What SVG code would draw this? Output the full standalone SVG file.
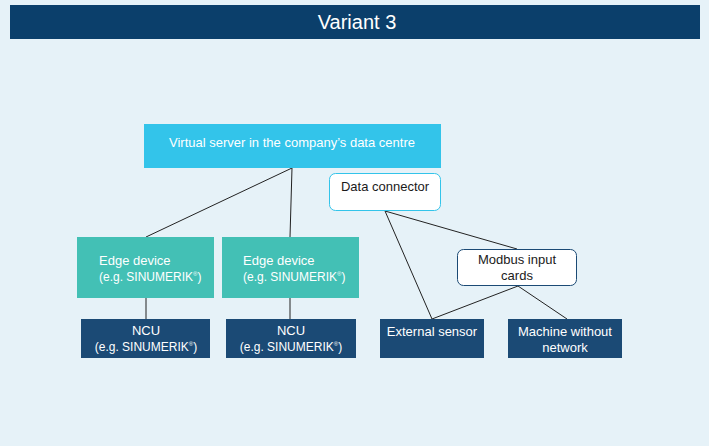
<svg xmlns="http://www.w3.org/2000/svg" width="709" height="446" viewBox="0 0 709 446">
<style>
text{font-family:"Liberation Sans",Arial,sans-serif;font-size:13px}
.s{font-size:12px}
.w{fill:#ffffff}
.k{fill:#1a1a1a}
.c{text-anchor:middle}
.sup{font-size:6px}
.ln{stroke:#222;stroke-width:1;fill:none}
.teal{fill:#43c0b5}
.navy{fill:#1b4a75}
</style>
<rect x="0" y="0" width="709" height="446" fill="#e6f2f8"/>
<g id="header">
<rect x="10" y="5" width="690" height="34" fill="#0b3f6b"/>
<text x="357" y="29" class="w c" style="font-size:20px">Variant 3</text>
</g>
<g id="connectors">
<line class="ln" x1="292" y1="168" x2="146" y2="237"/>
<line class="ln" x1="292" y1="168" x2="290" y2="237"/>
<line class="ln" x1="146" y1="298" x2="146" y2="319"/>
<line class="ln" x1="290" y1="298" x2="290" y2="319"/>
<line class="ln" x1="385" y1="211" x2="517" y2="249"/>
<line class="ln" x1="385" y1="211" x2="432" y2="319"/>
<line class="ln" x1="518" y1="286" x2="432" y2="319"/>
<line class="ln" x1="518" y1="286" x2="567" y2="319"/>
</g>
<g id="server">
<rect x="144" y="124" width="297" height="44" fill="#33c4ea"/>
<text x="292" y="147" class="w c">Virtual server in the company’s data centre</text>
</g>
<g id="dataconnector">
<rect x="329.5" y="173.5" width="111" height="37" rx="6" fill="#ffffff" stroke="#33c4ea"/>
<text x="385" y="191" class="k c">Data connector</text>
</g>
<g id="modbus">
<rect x="457.5" y="249.5" width="119" height="36" rx="6" fill="#ffffff" stroke="#1b4a75"/>
<text x="517" y="264" class="k c">Modbus input</text>
<text x="517" y="280" class="k c">cards</text>
</g>
<g id="edge1">
<rect x="77" y="237" width="137" height="61" class="teal"/>
<text x="99" y="265" class="w">Edge device</text>
<text x="99" y="281" class="w s">(e.g. SINUMERIK<tspan class="sup" dy="-5">®</tspan><tspan dy="5">)</tspan></text>
</g>
<g id="edge2">
<rect x="222" y="237" width="137" height="61" class="teal"/>
<text x="243" y="265" class="w">Edge device</text>
<text x="243" y="281" class="w s">(e.g. SINUMERIK<tspan class="sup" dy="-5">®</tspan><tspan dy="5">)</tspan></text>
</g>
<g id="ncu1">
<rect x="81" y="319" width="129" height="39" class="navy"/>
<text x="146" y="335" class="w c">NCU</text>
<text x="146" y="351" class="w c s">(e.g. SINUMERIK<tspan class="sup" dy="-5">®</tspan><tspan dy="5">)</tspan></text>
</g>
<g id="ncu2">
<rect x="226" y="319" width="130" height="39" class="navy"/>
<text x="291" y="335" class="w c">NCU</text>
<text x="291" y="351" class="w c s">(e.g. SINUMERIK<tspan class="sup" dy="-5">®</tspan><tspan dy="5">)</tspan></text>
</g>
<g id="sensor">
<rect x="380" y="319" width="104" height="39" class="navy"/>
<text x="432" y="336" class="w c">External sensor</text>
</g>
<g id="machine">
<rect x="508" y="319" width="114" height="39" class="navy"/>
<text x="565" y="336" class="w c">Machine without</text>
<text x="565" y="352" class="w c">network</text>
</g>
</svg>
